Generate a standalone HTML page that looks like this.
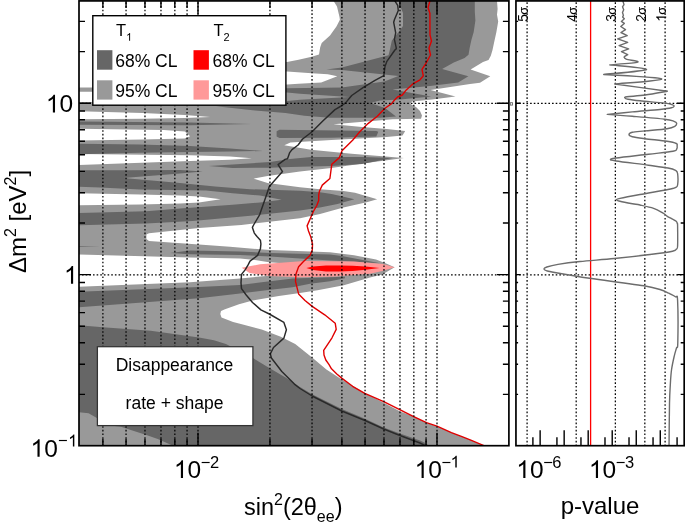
<!DOCTYPE html>
<html><head><meta charset="utf-8"><style>
html,body{margin:0;padding:0;background:#fff;width:685px;height:527px;overflow:hidden}
svg{display:block;will-change:transform}
text{font-family:"Liberation Sans",sans-serif;fill:#000}
</style></head><body>
<svg width="685" height="527" viewBox="0 0 685 527">
<clipPath id="cm"><rect x="79.0" y="0.9" width="429.9" height="444.8"/></clipPath><clipPath id="cp"><rect x="516.1" y="0.9" width="168.10000000000002" height="444.8"/></clipPath><g clip-path="url(#cm)"><rect x="79.0" y="0.9" width="429.9" height="444.8" fill="#999999"/><path d="M70.0 -5.0L333.5 -5.0L333.5 0.9L337.0 6.6L339.5 17.0L339.9 19.7L336.6 26.3L330.0 35.5L325.0 40.0L321.7 43.0L320.2 47.3L319.0 54.6L311.7 56.8L298.6 59.7L287.0 62.0L200.0 66.0L92.5 87.5L70.0 87.5Z" fill="#fff"/><path d="M70.0 91.7L92.5 91.7L200.0 71.4L287.0 71.4L311.7 73.3L327.8 74.3L337.3 76.2L321.2 82.6L298.6 83.8L287.0 84.5L200.0 86.0L92.5 102.0L70.0 102.0Z" fill="#fff"/><path d="M70.0 110.9L142.5 113.0L184.8 115.1L210.2 117.0L184.8 117.9L142.5 118.7L70.0 119.3Z" fill="#fff"/><path d="M70.0 128.6L163.7 130.0L184.8 131.4L190.1 136.3L184.8 138.4L142.5 139.5L70.0 140.5Z" fill="#fff"/><path d="M70.0 154.0L190.0 155.3L230.0 156.6L251.8 158.2L230.0 159.8L190.0 161.1L70.0 165.2Z" fill="#fff"/><path d="M70.0 193.2L140.0 194.4L180.0 195.6L199.0 196.5L220.6 199.3L199.0 202.5L180.0 203.5L140.0 204.5L70.0 205.5Z" fill="#fff"/><path d="M70.0 254.2L190.0 257.5L240.0 258.5L255.0 260.0L269.0 262.2L290.0 263.8L330.0 264.5L330.0 274.0L295.0 275.5L266.3 275.9L253.1 277.2L240.0 278.5L190.0 282.3L70.0 287.0Z" fill="#fff"/><path d="M497.0 -5.0L497.0 0.9L497.6 9.1L497.0 14.8L498.2 21.6L496.4 31.9L494.2 42.1L492.5 50.1L490.8 55.8L488.5 60.0L483.0 62.0L470.6 69.5L490.3 76.3L480.0 82.8L470.0 84.0L430.6 89.9L455.5 96.4L432.0 99.6L412.0 101.5L410.0 103.7L416.0 107.0L420.0 111.0L422.0 115.5L421.0 118.7L392.6 119.3L372.2 121.1L333.4 124.2L362.0 127.0L386.6 128.9L405.2 130.9L402.5 135.5L386.6 136.9L360.0 138.5L331.3 140.0L290.4 142.6L284.3 145.2L310.9 149.7L351.7 153.8L403.9 158.1L370.0 162.5L331.3 168.1L300.0 171.5L267.6 176.0L253.6 178.7L267.6 183.0L300.0 187.3L320.0 189.3L343.4 191.1L355.0 192.8L377.2 199.3L366.7 202.2L343.4 207.4L320.0 213.9L300.0 218.3L241.3 225.0L199.0 227.9L149.0 233.2L146.4 234.5L146.4 239.0L149.0 241.0L199.0 244.6L230.0 246.8L270.0 250.1L304.4 251.3L330.0 252.3L354.0 255.2L376.0 259.5L385.0 263.0L394.6 267.3L382.3 274.6L370.0 277.5L343.8 285.3L317.5 290.3L300.0 293.0L278.8 296.1L252.6 300.5L239.0 304.3L225.0 309.2L221.0 311.0L220.3 314.0L221.5 317.4L233.1 322.0L239.0 323.5L261.7 329.6L280.8 336.7L295.2 343.9L312.1 357.5L326.4 369.6L341.8 379.5L355.0 387.2L366.0 393.8L383.7 402.7L400.2 411.5L413.7 416.6L426.5 422.7L437.0 426.2L451.4 432.6L462.0 436.7L470.2 439.8L484.5 446.0L520.0 450.0L520.0 -5.0Z" fill="#fff"/><path d="M401.0 -5.0L474.5 -5.0L474.8 0.9L474.8 11.4L475.4 20.5L473.7 31.9L471.4 39.9L469.7 47.8L468.5 54.7L464.6 58.1L453.8 62.6L442.1 69.0L468.4 76.3L458.2 82.4L430.0 86.0L392.5 89.5L431.2 96.4L400.0 99.5L380.0 100.4L370.4 103.1L385.0 108.0L396.0 116.6L380.0 117.8L330.0 117.8L304.4 115.8L285.4 113.0L255.0 110.5L216.0 106.2L285.4 105.8L287.0 101.0L300.0 99.8L349.5 97.0L300.0 93.8L287.0 92.6L250.0 92.5L250.0 88.5L287.0 88.2L341.8 87.4L384.4 81.5L398.4 75.9L341.8 69.9L326.3 69.5L341.8 67.5L388.5 55.3L389.8 50.0L391.8 40.7L398.5 32.0L403.0 26.0L403.0 13.0L401.0 8.0Z" fill="#666666"/><path d="M70.0 121.5L190.0 122.6L251.3 124.1L190.0 125.3L70.0 124.8Z" fill="#666666"/><path d="M70.0 143.5L140.0 144.5L190.0 146.0L230.0 148.5L263.0 151.0L230.0 151.5L190.0 152.0L140.0 152.8L70.0 154.5Z" fill="#666666"/><path d="M276.6 131.3L279.5 129.7L376.3 131.0L378.3 131.8L376.3 136.5L331.3 137.7L279.5 137.9L276.6 136.5Z" fill="#666666"/><path d="M208.9 165.9L232.6 164.6L270.0 162.0L290.0 159.0L311.0 156.9L362.0 156.9L392.6 157.9L362.0 164.0L331.3 166.1L290.4 167.1L270.0 167.7L232.6 168.1Z" fill="#666666"/><path d="M70.0 170.4L130.0 170.2L180.0 169.9L202.8 171.6L180.0 173.4L123.4 178.1L180.0 183.0L215.0 186.5L250.0 189.2L300.0 190.8L320.0 192.3L331.7 194.0L354.4 199.3L337.5 204.0L320.0 207.4L300.0 210.5L260.0 214.8L192.6 221.0L146.0 223.6L70.0 225.5L70.0 213.1L146.0 211.2L180.0 208.5L232.6 204.8L260.0 202.5L281.6 199.7L260.0 195.5L232.6 193.2L206.0 190.5L140.0 189.4L100.0 187.5L70.0 186.6Z" fill="#666666"/><path d="M70.0 245.8L100.0 246.3L70.0 246.8Z" fill="#666666"/><path d="M170.0 253.0L190.0 250.6L240.0 251.5L270.0 253.1L330.0 254.4L341.7 256.0L380.0 263.3L341.7 261.0L330.0 260.6L270.0 256.6L240.0 255.0L190.0 254.2Z" fill="#666666"/><path d="M70.0 292.2L199.0 286.9L240.0 285.1L259.7 282.4L292.6 278.5L330.0 277.2L345.0 276.8L345.0 278.2L330.0 281.2L310.0 283.8L292.6 287.2L266.3 290.3L240.0 293.6L199.0 298.3L70.0 307.9Z" fill="#666666"/><path d="M70.0 324.6L102.9 327.2L150.7 330.8L199.0 337.5L213.9 340.3L225.9 343.9L253.4 358.3L268.9 367.8L285.6 377.4L300.0 387.0L312.1 394.2L341.8 409.0L365.0 418.7L383.7 427.4L400.0 433.6L420.0 440.6L426.5 443.5L432.0 450.0L70.0 450.0Z" fill="#666666"/><path d="M70.0 411.5L88.6 413.2L96.9 418.0L110.0 425.5L121.0 426.8L131.6 430.3L145.6 434.7L157.8 439.0L173.6 446.0L176.0 450.0L70.0 450.0Z" fill="#999999"/><path d="M241.7 267.8L260.0 264.3L304.4 261.0L354.0 261.5L383.0 264.0L394.6 267.3L382.3 271.1L370.0 273.8L335.0 276.4L300.0 277.3L268.8 276.0L249.6 273.0Z" fill="#ff9999"/><path d="M306.4 268.0L313.0 266.6L326.0 265.6L339.4 265.4L352.6 265.8L365.7 266.5L379.5 267.9L365.7 269.7L352.6 271.0L339.4 271.5L326.0 271.4L313.0 270.1Z" fill="#ff0000"/></g><g clip-path="url(#cm)"><path d="M393.0 -2.0L397.7 5.3L398.3 10.5L394.4 19.7L393.7 22.3L395.7 32.9L394.4 39.4L396.4 48.6L394.9 50.0L386.7 61.7L385.0 66.4L383.8 75.7L375.0 80.4L363.4 87.4L351.7 95.5L345.8 102.6L341.2 106.0L335.0 109.6L322.8 121.0L312.3 131.5L309.5 133.7L302.6 139.0L298.1 145.0L292.0 149.6L289.7 152.6L288.5 156.0L287.5 158.7L285.1 159.4L278.1 164.6L282.5 171.6L269.3 186.5L265.8 197.0L259.7 214.6L253.6 225.0L252.4 227.4L254.3 233.1L257.0 236.5L260.4 240.2L260.9 244.0L260.4 248.8L257.6 255.4L250.0 261.1L248.1 264.9L245.3 269.6L241.5 274.4L241.0 282.9L241.5 288.6L246.2 295.0L252.5 302.5L260.9 309.9L269.3 314.0L283.9 322.4L286.4 329.7L283.9 338.1L273.5 347.5L270.3 353.8L271.4 358.0L281.8 371.5L294.4 384.1L300.0 388.5L312.1 396.0L341.8 411.0L365.0 420.5L383.7 429.0L400.0 435.5L420.0 443.0L432.0 449.0" fill="none" stroke="#2a2a2a" stroke-width="1.45" stroke-linejoin="round"/><path d="M430.8 -2.0L428.0 7.6L429.9 13.3L430.0 35.0L431.5 41.0L429.0 48.0L430.5 55.0L425.9 63.4L422.0 69.3L423.3 75.9L420.0 79.8L412.8 83.9L406.3 89.9L402.3 95.0L397.6 97.0L394.3 100.3L391.6 103.6L385.0 108.3L377.3 116.3L368.0 123.6L360.0 131.5L352.6 140.3L342.0 150.8L339.4 157.6L331.8 164.2L329.9 178.5L322.3 185.1L319.5 191.0L318.7 195.0L318.7 200.5L316.8 205.5L313.7 210.8L307.1 225.9L308.5 231.0L310.9 237.3L312.5 244.0L312.3 250.0L310.1 255.2L303.0 262.0L298.6 266.7L296.0 274.0L295.5 281.4L298.6 293.9L305.0 300.5L312.2 306.4L324.7 314.8L335.2 323.2L336.2 329.4L332.0 337.8L323.7 350.4L324.0 355.0L325.8 360.0L328.9 364.4L331.5 368.8L336.8 374.0L342.0 378.4L352.6 386.3L364.8 393.3L383.7 401.6L400.2 409.8L413.7 416.6L426.5 422.7L437.0 426.2L451.4 432.6L462.0 436.7L470.2 439.8L484.5 445.8L490.0 449.0" fill="none" stroke="#e00000" stroke-width="1.4" stroke-linejoin="round"/></g><path d="M102.89 0.9V445.7M126.05 0.9V445.7M144.98 0.9V445.7M160.98 0.9V445.7M174.84 0.9V445.7M187.06 0.9V445.7M198.00 0.9V445.7M269.95 0.9V445.7M312.03 0.9V445.7M341.89 0.9V445.7M365.05 0.9V445.7M383.98 0.9V445.7M399.98 0.9V445.7M413.84 0.9V445.7M426.06 0.9V445.7M437.00 0.9V445.7" stroke="#000" stroke-width="1.25" stroke-dasharray="1.6 2.054" stroke-dashoffset="-1.43" fill="none"/><path d="M79.0 274.90H508.9M79.0 103.30H508.9" stroke="#000" stroke-width="1.25" stroke-dasharray="1.6 2.054" stroke-dashoffset="0.65" fill="none"/><path d="M102.89 445.7v-7M102.89 0.9v7M126.05 445.7v-7M126.05 0.9v7M144.98 445.7v-7M144.98 0.9v7M160.98 445.7v-7M160.98 0.9v7M174.84 445.7v-7M174.84 0.9v7M187.06 445.7v-7M187.06 0.9v7M198.00 445.7v-13M198.00 0.9v13M269.95 445.7v-7M269.95 0.9v7M312.03 445.7v-7M312.03 0.9v7M341.89 445.7v-7M341.89 0.9v7M365.05 445.7v-7M365.05 0.9v7M383.98 445.7v-7M383.98 0.9v7M399.98 445.7v-7M399.98 0.9v7M413.84 445.7v-7M413.84 0.9v7M426.06 445.7v-7M426.06 0.9v7M437.00 445.7v-13M437.00 0.9v13M79.0 394.40h6M508.9 394.40h-6M79.0 364.22h6M508.9 364.22h-6M79.0 342.81h6M508.9 342.81h-6M79.0 326.20h6M508.9 326.20h-6M79.0 312.62h6M508.9 312.62h-6M79.0 301.15h6M508.9 301.15h-6M79.0 291.21h6M508.9 291.21h-6M79.0 282.44h6M508.9 282.44h-6M79.0 274.60h12M508.9 274.60h-12M79.0 223.00h6M508.9 223.00h-6M79.0 192.82h6M508.9 192.82h-6M79.0 171.41h6M508.9 171.41h-6M79.0 154.80h6M508.9 154.80h-6M79.0 141.22h6M508.9 141.22h-6M79.0 129.75h6M508.9 129.75h-6M79.0 119.81h6M508.9 119.81h-6M79.0 111.04h6M508.9 111.04h-6M79.0 103.20h12M508.9 103.20h-12M79.0 51.60h6M508.9 51.60h-6M79.0 21.42h6M508.9 21.42h-6" stroke="#000" stroke-width="1.4" fill="none"/><rect x="79.0" y="0.9" width="429.9" height="444.8" fill="none" stroke="#000" stroke-width="1.7"/><path d="M665.10 0.9V445.7M644.83 0.9V445.7M615.35 0.9V445.7M576.19 0.9V445.7M527.09 0.9V445.7" stroke="#000" stroke-width="1.25" stroke-dasharray="1.6 2.054" stroke-dashoffset="-1.43" fill="none"/><path d="M516.1 103.3H684.2M516.1 274.9H684.2" stroke="#000" stroke-width="1.25" stroke-dasharray="1.6 2.054" stroke-dashoffset="0.6" fill="none"/><g transform="translate(666.20 21.8) rotate(-90)"><path d="M763 0L583 0L583 1147Q518 1085 412 1023Q307 961 223 930L223 1104Q374 1175 487 1276Q600 1377 647 1472L763 1472Z" transform="translate(0.00 0.00) scale(0.00679 -0.00679)" fill="#000"/><text x="7.03" y="0" font-size="13">σ</text></g><g transform="translate(645.93 21.8) rotate(-90)"><text x="0.00" y="0.00" font-size="13.9">2</text><text x="7.03" y="0" font-size="13">σ</text></g><g transform="translate(616.45 21.8) rotate(-90)"><text x="0.00" y="0.00" font-size="13.9">3</text><text x="7.03" y="0" font-size="13">σ</text></g><g transform="translate(577.29 21.8) rotate(-90)"><text x="0.00" y="0.00" font-size="13.9">4</text><text x="7.03" y="0" font-size="13">σ</text></g><g transform="translate(528.19 21.8) rotate(-90)"><text x="0.00" y="0.00" font-size="13.9">5</text><text x="7.03" y="0" font-size="13">σ</text></g><line x1="590.6" y1="0.9" x2="590.6" y2="445.7" stroke="#ff0000" stroke-width="1.3"/><g clip-path="url(#cp)"><path d="M623.1 -1.0L623.1 1.7L624.0 4.6L622.5 6.8L623.7 9.7L622.5 12.5L623.4 15.4L622.6 17.1L624.3 18.8L621.4 21.4L624.3 23.4L620.8 26.5L625.5 29.6L621.0 32.5L627.2 35.6L617.7 38.9L627.7 42.3L619.1 45.6L628.6 48.9L621.5 51.7L627.7 54.6L623.9 56.8" fill="none" stroke="#6c6c6c" stroke-width="1.4" stroke-linejoin="round"/><path d="M623.90 56.80C624.28 57.18 623.90 58.20 626.20 59.10C628.50 60.00 640.43 61.23 637.70 62.20C634.97 63.17 614.45 64.45 609.80 64.90C615.92 65.67 647.52 67.90 646.50 69.50C645.48 71.10 610.83 73.67 603.70 74.50C613.35 75.23 659.75 77.32 661.60 78.90C663.45 80.48 622.60 83.15 614.80 84.00C623.60 85.20 658.80 90.00 667.60 91.20" fill="none" stroke="#6c6c6c" stroke-width="1.4" stroke-linejoin="round"/><path d="M667.60 91.20C663.87 91.83 651.97 94.07 645.20 95.00C638.43 95.93 630.37 96.32 627.00 96.80C623.63 97.28 624.83 97.50 625.00 97.90C625.17 98.30 625.50 98.72 628.00 99.20C630.50 99.68 633.92 100.15 640.00 100.80C646.08 101.45 659.17 102.47 664.50 103.10C669.83 103.73 670.38 104.12 672.00 104.60C673.62 105.08 674.28 105.47 674.20 106.00C674.12 106.53 673.87 107.22 671.50 107.80C669.13 108.38 666.53 108.82 660.00 109.50C653.47 110.18 641.08 111.08 632.30 111.90C623.52 112.72 611.47 113.98 607.30 114.40C611.47 114.72 622.77 115.50 632.30 116.30C641.83 117.10 657.55 118.37 664.50 119.20C671.45 120.03 671.98 120.63 674.00 121.30C676.02 121.97 676.47 122.37 676.60 123.20C676.73 124.03 676.40 125.38 674.80 126.30C673.20 127.22 671.97 127.93 667.00 128.70C662.03 129.47 650.78 130.30 645.00 130.90C639.22 131.50 634.97 131.70 632.30 132.30C629.63 132.90 629.00 133.77 629.00 134.50C629.00 135.23 629.63 136.00 632.30 136.70C634.97 137.40 639.22 137.93 645.00 138.70C650.78 139.47 661.78 140.50 667.00 141.30C672.22 142.10 674.62 142.72 676.30 143.50C677.98 144.28 677.02 145.12 677.10 146.00C677.18 146.88 677.48 147.92 676.80 148.80C676.12 149.68 677.73 150.40 673.00 151.30C668.27 152.20 657.88 153.08 648.40 154.20C638.92 155.32 622.42 157.12 616.10 158.00C609.78 158.88 610.50 159.00 610.50 159.50C610.50 160.00 609.78 160.05 616.10 161.00C622.42 161.95 639.75 164.03 648.40 165.20C657.05 166.37 663.48 167.15 668.00 168.00C672.52 168.85 673.90 169.38 675.50 170.30C677.10 171.22 677.25 171.05 677.60 173.50C677.95 175.95 677.95 182.67 677.60 185.00C677.25 187.33 677.10 186.75 675.50 187.50C673.90 188.25 673.92 188.33 668.00 189.50C662.08 190.67 648.00 193.02 640.00 194.50C632.00 195.98 623.95 197.52 620.00 198.40C616.05 199.28 616.30 199.32 616.30 199.80C616.30 200.28 617.32 200.63 620.00 201.30C622.68 201.97 629.07 203.18 632.40 203.80C635.73 204.42 636.47 204.25 640.00 205.00C643.53 205.75 649.82 206.98 653.60 208.30C657.38 209.62 660.42 211.57 662.70 212.90C664.98 214.23 665.75 215.32 667.30 216.30C668.85 217.28 670.52 217.98 672.00 218.80C673.48 219.62 675.32 220.42 676.20 221.20C677.08 221.98 677.07 222.70 677.30 223.50C677.53 224.30 677.55 222.25 677.60 226.00C677.65 229.75 677.78 242.17 677.60 246.00C677.42 249.83 677.35 248.13 676.50 249.00C675.65 249.87 676.92 250.28 672.50 251.20C668.08 252.12 659.70 253.28 650.00 254.50C640.30 255.72 625.97 257.33 614.30 258.50C602.63 259.67 589.38 260.52 580.00 261.50C570.62 262.48 563.53 263.48 558.00 264.40C552.47 265.32 549.15 266.25 546.80 267.00C544.45 267.75 543.90 268.27 543.90 268.90C543.90 269.53 545.00 270.20 546.80 270.80C548.60 271.40 547.58 271.25 554.70 272.50C561.82 273.75 578.62 276.63 589.50 278.30C600.38 279.97 610.92 281.25 620.00 282.50C629.08 283.75 637.33 284.63 644.00 285.80C650.67 286.97 655.85 288.27 660.00 289.50C664.15 290.73 666.32 291.98 668.90 293.20C671.48 294.42 674.05 295.58 675.50 296.80C676.95 298.02 677.22 292.85 677.60 300.50C677.98 308.15 677.98 334.78 677.80 342.70C677.62 350.62 677.08 345.82 676.50 348.00C675.92 350.18 675.13 352.13 674.30 355.80C673.47 359.47 672.17 365.13 671.50 370.00C670.83 374.87 670.63 379.40 670.30 385.00C669.97 390.60 669.72 392.77 669.50 403.60C669.28 414.43 669.08 442.27 669.00 450.00" fill="none" stroke="#6c6c6c" stroke-width="1.4" stroke-linejoin="round"/></g><path d="M540.13 445.7v-15.5M532.90 445.7v-8.5M564.16 445.7v-15.5M556.93 445.7v-8.5M588.19 445.7v-15.5M580.96 445.7v-8.5M612.22 445.7v-15.5M604.99 445.7v-8.5M636.25 445.7v-15.5M629.02 445.7v-8.5M660.28 445.7v-15.5M653.05 445.7v-8.5M677.08 445.7v-8.5M516.1 394.40h2M684.2 394.40h-3.5M516.1 364.22h2M684.2 364.22h-3.5M516.1 342.81h2M684.2 342.81h-3.5M516.1 326.20h2M684.2 326.20h-3.5M516.1 312.62h2M684.2 312.62h-3.5M516.1 301.15h2M684.2 301.15h-3.5M516.1 291.21h2M684.2 291.21h-3.5M516.1 282.44h2M684.2 282.44h-3.5M516.1 274.60h4.5M684.2 274.60h-7M516.1 223.00h2M684.2 223.00h-3.5M516.1 192.82h2M684.2 192.82h-3.5M516.1 171.41h2M684.2 171.41h-3.5M516.1 154.80h2M684.2 154.80h-3.5M516.1 141.22h2M684.2 141.22h-3.5M516.1 129.75h2M684.2 129.75h-3.5M516.1 119.81h2M684.2 119.81h-3.5M516.1 111.04h2M684.2 111.04h-3.5M516.1 103.20h4.5M684.2 103.20h-7M516.1 51.60h2M684.2 51.60h-3.5M516.1 21.42h2M684.2 21.42h-3.5" stroke="#000" stroke-width="1.4" fill="none"/><rect x="510.3" y="102.7" width="2.2" height="2.4" fill="none" stroke="#666" stroke-width="0.9"/><rect x="515.95" y="0.9" width="168.25" height="444.8" fill="none" stroke="#000" stroke-width="1.7"/><rect x="92.8" y="15.7" width="193.1" height="89.5" fill="#fff" stroke="#000" stroke-width="1.4"/><text x="116" y="35.9" font-size="16.5">T</text><path d="M763 0L583 0L583 1147Q518 1085 412 1023Q307 961 223 930L223 1104Q374 1175 487 1276Q600 1377 647 1472L763 1472Z" transform="translate(126.00 40.80) scale(0.00537 -0.00537)" fill="#000"/><text x="213.5" y="35.9" font-size="16.5">T<tspan font-size="11" dy="4.9">2</tspan></text><rect x="97" y="50.2" width="15.4" height="19.5" fill="#666666"/><rect x="97" y="80.3" width="15.4" height="19.3" fill="#999999"/><rect x="193.5" y="50.2" width="15.4" height="19.5" fill="#ff0000"/><rect x="193.5" y="80.3" width="15.4" height="19.3" fill="#ff9999"/><text x="115.2" y="66.5" font-size="17.5">68% CL</text><text x="115.2" y="97" font-size="17.5">95% CL</text><text x="212.6" y="66.5" font-size="17.5">68% CL</text><text x="212.6" y="97" font-size="17.5">95% CL</text><rect x="97.4" y="346.7" width="155.5" height="78.9" fill="#fff" stroke="#333" stroke-width="1.25"/><text x="174.5" y="371" font-size="17.5" text-anchor="middle">Disappearance</text><text x="174.5" y="409.4" font-size="17.5" text-anchor="middle">rate + shape</text><path d="M763 0L583 0L583 1147Q518 1085 412 1023Q307 961 223 930L223 1104Q374 1175 487 1276Q600 1377 647 1472L763 1472Z" transform="translate(173.90 477.90) scale(0.01196 -0.01196)" fill="#000"/><text x="187.53" y="477.90" font-size="24.5">0</text><text x="200.75" y="467.50" font-size="16.5">−</text><text x="209.89" y="467.50" font-size="16.5">2</text><path d="M763 0L583 0L583 1147Q518 1085 412 1023Q307 961 223 930L223 1104Q374 1175 487 1276Q600 1377 647 1472L763 1472Z" transform="translate(414.60 477.90) scale(0.01196 -0.01196)" fill="#000"/><text x="428.23" y="477.90" font-size="24.5">0</text><text x="441.45" y="467.50" font-size="16.5">−</text><path d="M763 0L583 0L583 1147Q518 1085 412 1023Q307 961 223 930L223 1104Q374 1175 487 1276Q600 1377 647 1472L763 1472Z" transform="translate(450.59 467.50) scale(0.00806 -0.00806)" fill="#000"/><path d="M763 0L583 0L583 1147Q518 1085 412 1023Q307 961 223 930L223 1104Q374 1175 487 1276Q600 1377 647 1472L763 1472Z" transform="translate(516.30 477.90) scale(0.01196 -0.01196)" fill="#000"/><text x="529.93" y="477.90" font-size="24.5">0</text><text x="543.15" y="467.50" font-size="16.5">−</text><text x="552.29" y="467.50" font-size="16.5">6</text><path d="M763 0L583 0L583 1147Q518 1085 412 1023Q307 961 223 930L223 1104Q374 1175 487 1276Q600 1377 647 1472L763 1472Z" transform="translate(588.90 477.90) scale(0.01196 -0.01196)" fill="#000"/><text x="602.53" y="477.90" font-size="24.5">0</text><text x="615.75" y="467.50" font-size="16.5">−</text><text x="624.89" y="467.50" font-size="16.5">3</text><path d="M763 0L583 0L583 1147Q518 1085 412 1023Q307 961 223 930L223 1104Q374 1175 487 1276Q600 1377 647 1472L763 1472Z" transform="translate(45.90 112.40) scale(0.01196 -0.01196)" fill="#000"/><text x="59.53" y="112.40" font-size="24.5">0</text><path d="M763 0L583 0L583 1147Q518 1085 412 1023Q307 961 223 930L223 1104Q374 1175 487 1276Q600 1377 647 1472L763 1472Z" transform="translate(64.00 283.70) scale(0.01196 -0.01196)" fill="#000"/><path d="M763 0L583 0L583 1147Q518 1085 412 1023Q307 961 223 930L223 1104Q374 1175 487 1276Q600 1377 647 1472L763 1472Z" transform="translate(30.50 456.80) scale(0.01196 -0.01196)" fill="#000"/><text x="44.13" y="456.80" font-size="24.5">0</text><text x="58.05" y="446.40" font-size="16.5">−</text><path d="M763 0L583 0L583 1147Q518 1085 412 1023Q307 961 223 930L223 1104Q374 1175 487 1276Q600 1377 647 1472L763 1472Z" transform="translate(68.19 446.40) scale(0.00806 -0.00806)" fill="#000"/><text x="293.2" y="514.7" font-size="23.5" text-anchor="middle">sin<tspan font-size="16" dy="-10">2</tspan><tspan dy="10">(2θ</tspan><tspan font-size="16" dy="7.6">ee</tspan><tspan dy="-7.6">)</tspan></text><text x="600" y="514.3" font-size="24" text-anchor="middle">p-value</text><text transform="translate(26.2 221.5) rotate(-90)" font-size="24" text-anchor="middle">Δm<tspan font-size="16" dy="-10">2</tspan><tspan dy="10"> [eV</tspan><tspan font-size="16" dy="-10">2</tspan><tspan dy="10">]</tspan></text>
</svg>
</body></html>
